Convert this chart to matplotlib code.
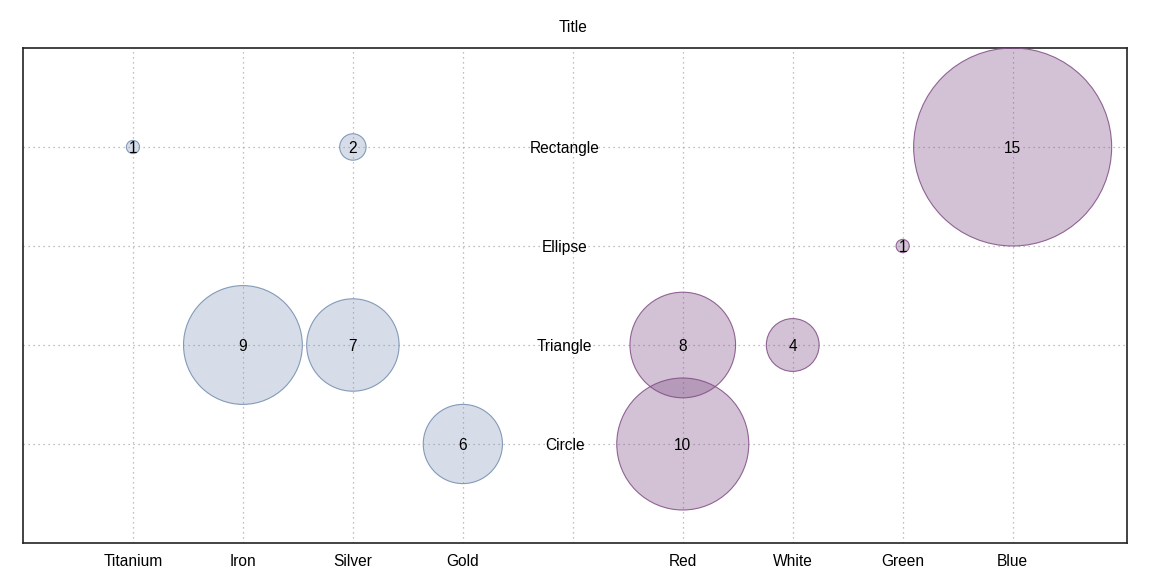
import matplotlib
matplotlib.use("Agg")
import matplotlib.pyplot as plt
import matplotlib.transforms as mtransforms
import numpy as np

plt.rcParams['font.family'] = ['Liberation Sans', 'DejaVu Sans']

x_labels = ["Titanium", "Iron", "Silver", "Gold", "", "Red", "White", "Green", "Blue"]
y_labels = ["Circle", "Triangle", "Ellipse", "Rectangle"]

# series 1 (metals)
metal_x = ["Titanium", "Silver", "Iron", "Silver", "Gold"]
metal_y = ["Rectangle", "Rectangle", "Triangle", "Triangle", "Circle"]
metal_v = [1, 2, 9, 7, 6]

# series 2 (colors)
color_x = ["Blue", "Green", "Red", "White", "Red"]
color_y = ["Rectangle", "Ellipse", "Triangle", "Triangle", "Circle"]
color_v = [15, 1, 8, 4, 10]

max_v = 15
FS = 11.2

fig = plt.figure(figsize=(11.52, 5.76), dpi=100)
ax = fig.add_axes([23/1152, 1-543/576, 1104/1152, 495/576])
ax.set_xlim(-1, len(x_labels) - 1 + 1.04)
ax.set_ylim(-1, len(y_labels))

ax.set_xticks(range(len(x_labels)))
ax.set_xticklabels(x_labels, fontsize=FS)
ax.set_yticks(range(len(y_labels)))
ax.set_yticklabels([])
ax.tick_params(length=0, pad=8)
ax.grid(True, linestyle=(0, (1, 3)), color="#aaaaaa", linewidth=0.9)
ax.set_axisbelow(True)
for s in ax.spines.values():
    s.set_linewidth(1.2)
    s.set_color("#222222")

fig.canvas.draw()
# pixel size of one y unit
p0 = ax.transData.transform((0, 0))
p1 = ax.transData.transform((0, 1))
unit_px = abs(p1[1] - p0[1])
pt_per_px = 72 / fig.dpi

def sizes(vals):
    r_pt = np.array(vals) / max_v * unit_px * pt_per_px
    return (2 * r_pt) ** 2

xi = {k: i for i, k in enumerate(x_labels) if k}
yi = {k: i for i, k in enumerate(y_labels)}

mx = [xi[k] for k in metal_x]
my = [yi[k] for k in metal_y]
cx = [xi[k] for k in color_x]
cy = [yi[k] for k in color_y]

ax.scatter(mx, my, s=sizes(metal_v), facecolor=(0.47, 0.57, 0.70, 0.3),
           edgecolor=(0.47, 0.57, 0.70, 0.9), linewidth=0.8, zorder=3)
ax.scatter(cx, cy, s=sizes(color_v), facecolor=(0.5, 0.3, 0.52, 0.34),
           edgecolor=(0.5, 0.3, 0.52, 0.85), linewidth=0.8, zorder=3)

down = mtransforms.offset_copy(ax.transData, fig=fig, x=0, y=-1.5, units='dots')
for x, y, v in zip(mx + cx, my + cy, metal_v + color_v):
    ax.text(x, y, str(v), ha="center", va="center", fontsize=FS, zorder=4,
            transform=down)

mid = x_labels.index("")
shift = mtransforms.offset_copy(ax.transData, fig=fig, x=-8, y=-1.5, units='dots')
for k, i in yi.items():
    ax.text(mid, i, k, ha="center", va="center", fontsize=FS, zorder=4,
            transform=shift)

fig.text(573/1152, 1-27.5/576, "Title", ha="center", va="center", fontsize=FS)

fig.savefig("out.png", dpi=100)
